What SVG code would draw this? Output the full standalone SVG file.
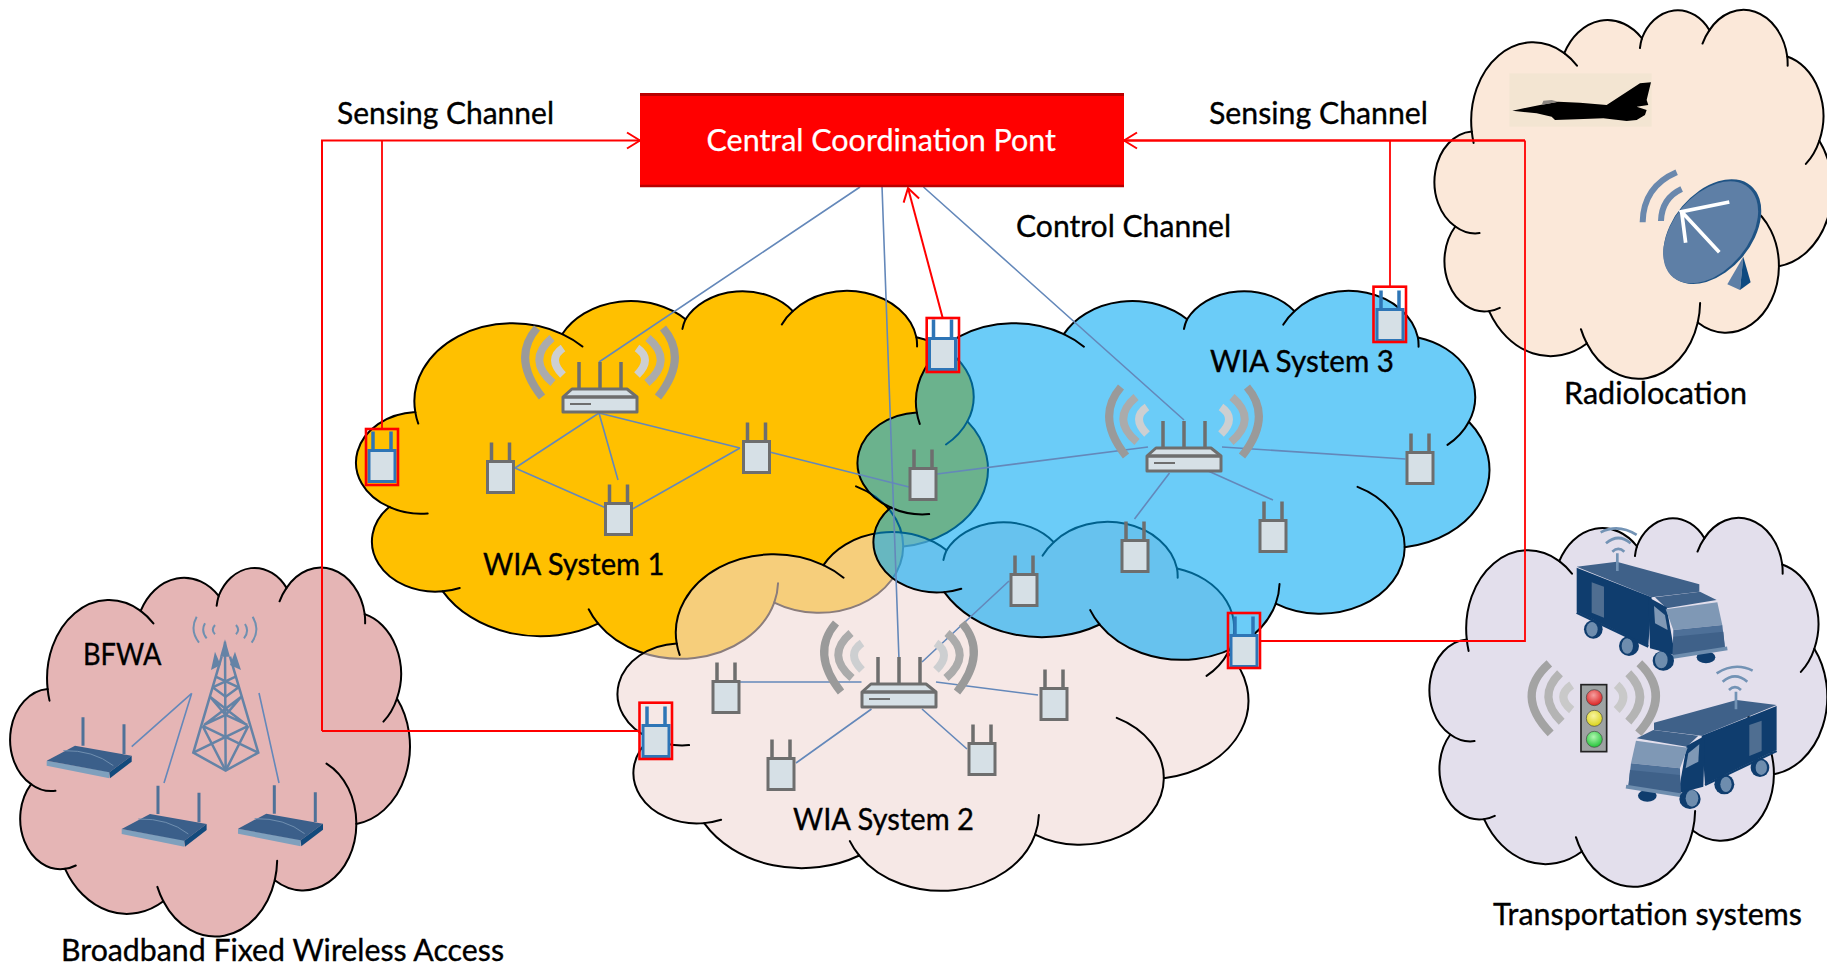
<svg xmlns="http://www.w3.org/2000/svg" width="1827" height="968" viewBox="0 0 1827 968">
<style>
.ol,.tp{stroke:#000;stroke-width:2;vector-effect:non-scaling-stroke;stroke-linecap:round}
.tp{fill:none}
text{font-family:Lato,"Liberation Sans",sans-serif;font-size:31px;fill:#000;stroke:#000;stroke-width:.35}
.ln{fill:none;stroke:#6488BA;stroke-width:1.6}
.rd{fill:none;stroke:#F00;stroke-width:1.8}
.gr{stroke:#6E6E6E;fill:#D6E0E6}
.ant{stroke:#6E6E6E;fill:none;stroke-width:3.5}
.sb{stroke:#2E75B6;fill:#D6E0E6;stroke-width:3}
.sa{stroke:#2E75B6;fill:none;stroke-width:3.5}
.rb{fill:none;stroke:#F00;stroke-width:2.6}
.w1,.w2,.w3{fill:none}
.w1{stroke:#9A9A9A;stroke-width:8}
.w2{stroke:#ABABAB;stroke-width:8}
.w3{stroke:#CDCFD1;stroke-width:8}
.tw{fill:none;stroke:#6483A6;stroke-width:7.500}
.twv{fill:none;stroke:#7090B0;stroke-width:6}
</style>
<defs>
<g id="cloud">
<path class="ol" d="M90.300 332.600A156 213 0 0 1 324 120A123 168 0 0 1 520 79.500A101 138 0 0 1 690.600 57.500A112 153 0 0 1 887 129A123 168 0 0 1 968 358A157 213 0 0 1 866 699A134 182 0 0 1 661 852A156 213 0 0 1 381 909A179 244 0 0 1 134 821A101 137 0 0 1 48.800 591A100.600 137.600 0 0 1 90.300 332.600Z"/>
<path class="tp" d="M90.300 332.600A156 213 0 0 0 95 364M324 120A156 213 0 0 1 356 154M520 79.500A101 138 0 0 0 515 106M690.600 57.500A112 153 0 0 0 673 94M887 129A112 153 0 0 1 888 154M968 358A123 168 0 0 1 934 421M866 699A134 182 0 0 0 791 535M661 852A156 213 0 0 0 667 799M381 909A156 213 0 0 1 366 870M134 821A101 137 0 0 0 161 812M48.800 591A100.600 137.600 0 0 0 110 609"/>
</g>
<g id="router">
<path class="w1" d="M-63 -72Q-89 -42 -58 -3M63 -72Q89 -42 58 -3"/>
<path class="w2" d="M-48 -62Q-74 -40 -47 -17M48 -62Q74 -40 47 -17"/>
<path class="w3" d="M-37 -52Q-53 -41 -37 -25M37 -52Q53 -41 37 -25"/>
<path class="ant" d="M-21 -38V-11M0 -38V-11M21 -38V-11"/>
<path class="gr" stroke-width="3" stroke-linejoin="round" d="M-37 -3L-28 -11H27L37 -3V12H-37Z"/>
<path class="ant" stroke-width="2" d="M-37 -3H37"/>
<path d="M-30 4H-9" stroke="#6E6E6E" stroke-width="2" fill="none"/>
</g>
<g id="ap">
<path class="ant" d="M-9 -34.500V-15.500M9 -34.500V-15.500"/>
<rect class="gr" stroke-width="3" x="-13" y="-15.500" width="26" height="31"/>
</g>
<g id="sap">
<path class="sa" d="M-9 -34.500V-15.500M9 -34.500V-15.500"/>
<rect class="sb" x="-13" y="-15.500" width="26" height="31"/>
</g>
<g id="brouter">
<path stroke="#4F7198" stroke-width="9" fill="none" d="M159 352V437M282 373V462"/>
<path fill="#7FA0BD" d="M50 482L238 515V535L50 497Z"/>
<path fill="#3B5F8A" d="M50 482L135 437L305 467L238 517Z"/>
<path fill="#134A7C" d="M238 517L305 467V485L240 535Z"/>
<path fill="none" stroke="#6F8FB0" stroke-width="3" d="M100 452Q190 450 250 497"/>
</g>
<g id="truck">
<ellipse cx="618" cy="412" rx="28" ry="18" fill="#0F3D6E"/>
<ellipse cx="280" cy="328" rx="28" ry="28" fill="#0F3D6E"/><ellipse cx="276" cy="328" rx="17" ry="22" fill="#6E8DAE"/>
<ellipse cx="387" cy="378" rx="30" ry="30" fill="#0F3D6E"/><ellipse cx="382" cy="378" rx="17" ry="23" fill="#6E8DAE"/>
<path fill="#3F6189" d="M230 140L350 125L598 193V215L455 232Z"/>
<path fill="#0F3D6E" d="M230 143L455 232L445 378L230 275Z"/>
<path fill="#4F6E91" d="M275 187L312 200V293L275 278Z"/>
<path fill="#3F6189" d="M465 232L600 215L650 240L500 265Z"/>
<path fill="#0F3D6E" d="M445 232L500 262L525 405L450 385Z"/>
<path fill="#7F98B5" d="M497 268L652 247L667 315L520 330Z"/>
<path fill="#7F98B5" d="M462 258L495 285L503 330L465 310Z"/>
<path fill="#4E7098" d="M520 330L667 315L675 385L518 410Z"/>
<path fill="#3F6189" d="M520 350L670 335L675 385L518 410Z"/>
<path fill="none" stroke="#0F3D6E" stroke-width="7" d="M230 278L445 380"/>
<path fill="none" stroke="#6E8DAE" stroke-width="11" d="M510 412L682 385"/>
<ellipse cx="490" cy="422" rx="32" ry="30" fill="#0F3D6E"/><ellipse cx="484" cy="420" rx="19" ry="25" fill="#6E8DAE"/>
<path stroke="#7393B5" stroke-width="8" fill="none" d="M352 100V153M302 37Q355 10 410 45M318 70Q355 38 392 70M337 95Q355 78 373 95"/>
</g>
<radialGradient id="gr" cx=".45" cy=".35" r=".7"><stop offset="0" stop-color="#F6A0A0"/><stop offset="1" stop-color="#D81818"/></radialGradient>
<radialGradient id="gy" cx=".45" cy=".35" r=".7"><stop offset="0" stop-color="#F8F4A0"/><stop offset="1" stop-color="#D8D010"/></radialGradient>
<radialGradient id="gg" cx=".45" cy=".35" r=".7"><stop offset="0" stop-color="#B0F6B0"/><stop offset="1" stop-color="#18C030"/></radialGradient>
<marker id="ah" viewBox="0 0 16 20" refX="15" refY="10" markerWidth="16" markerHeight="20" markerUnits="userSpaceOnUse" orient="auto"><path d="M2 2L15 10L2 18" fill="none" stroke="#F00" stroke-width="2"/></marker>
</defs>
<rect width="1827" height="968" fill="#fff"/>

<g id="cloud-bfwa"><use href="#cloud" transform="translate(11.700,566.700) scale(.398,.368)" fill="#E5B5B5"/></g>
<g id="cloud-radiolocation"><use href="#cloud" transform="translate(1436,9) scale(.396,.368)" fill="#FBE8D9"/></g>
<g id="cloud-transport"><use href="#cloud" transform="translate(1431,517) scale(.396,.368)" fill="#E3DFEC"/></g>
<g id="cloud-wia1"><use href="#cloud" transform="translate(358.500,290) scale(.629,.367)" fill="#FFC000"/></g>
<g id="cloud-wia2"><use href="#cloud" transform="translate(620,521) scale(.628,.368)" fill="#F0D7D4" fill-opacity=".58"/></g>
<g id="cloud-wia3"><use href="#cloud" transform="translate(860,290) scale(.629,.368)" fill="#00A7F3" fill-opacity=".58"/></g>

<g id="connectors">
<g class="ln">
<path d="M860 187L599 362M882 186L899 660M923.500 187L1184 420"/>
<path d="M599 413L515 468M599 413L618 480M599 413L740 448M515 468L606 508M740 448L632.500 509M769.500 452L909 487"/>
<path d="M937 474L1148 447M1222 447L1405.500 459M1169.500 473L1134.500 519M1201.500 468L1273 500"/>
<path d="M922 662L1009 581M936 682L1038 695M922 709L967 749M740 682H861.500M871.500 709L796 763"/>
<path d="M131.700 746.700L191.700 693.300M164 783L191.700 693.300M259 693L279 783"/>
</g>
<g class="rd">
<path d="M322 731V140.500H640" stroke-width="2" marker-end="url(#ah)"/>
<path d="M382 140.500V429"/>
<path d="M322 731H640"/>
<path d="M1525 140.500H1124" stroke-width="2.400" marker-end="url(#ah)"/>
<path d="M1390 140.500V287"/>
<path d="M1525 140.500V641H1260"/>
<path d="M942.700 318L908 188" stroke-width="2" marker-end="url(#ah)"/>
</g>
</g>

<g id="central-coordination-point">
<rect x="640" y="93" width="484" height="94" fill="#F00"/>
<path d="M640 94.500H1124" stroke="#B80000" stroke-width="3"/>
<path d="M640 186H1124" stroke="#B80000" stroke-width="2.500"/>
<text x="706.500" y="151" textLength="349.500" lengthAdjust="spacingAndGlyphs" style="fill:#fff;stroke:#fff;stroke-width:.25">Central Coordination Pont</text>
</g>

<g id="wia1-router"><use href="#router" transform="translate(600,400)"/></g>
<g id="wia2-router"><use href="#router" transform="translate(899,695)"/></g>
<g id="wia3-router"><use href="#router" transform="translate(1184,459)"/></g>
<g id="wia1-ap1"><use href="#ap" transform="translate(500.500,477)"/></g>
<g id="wia1-ap2"><use href="#ap" transform="translate(618.500,519)"/></g>
<g id="wia1-ap3"><use href="#ap" transform="translate(756.500,457)"/></g>
<g id="wia3-ap1"><use href="#ap" transform="translate(923,484)"/></g>
<g id="wia3-ap2"><use href="#ap" transform="translate(1420,468)"/></g>
<g id="wia3-ap3"><use href="#ap" transform="translate(1273,536)"/></g>
<g id="wia3-ap4"><use href="#ap" transform="translate(1135,556)"/></g>
<g id="wia3-ap5"><use href="#ap" transform="translate(1024,590)"/></g>
<g id="wia2-ap1"><use href="#ap" transform="translate(726,697)"/></g>
<g id="wia2-ap2"><use href="#ap" transform="translate(781,774)"/></g>
<g id="wia2-ap3"><use href="#ap" transform="translate(1054,704)"/></g>
<g id="wia2-ap4"><use href="#ap" transform="translate(982,759)"/></g>

<g id="sensor-1"><use href="#sap" transform="translate(382,466)"/><rect class="rb" x="366" y="429" width="32" height="56"/></g>
<g id="sensor-2"><use href="#sap" transform="translate(942.500,354)"/><rect class="rb" x="926.700" y="318" width="32.300" height="54"/></g>
<g id="sensor-3"><use href="#sap" transform="translate(1390,325)"/><rect class="rb" x="1373.500" y="286.700" width="32.500" height="55.300"/></g>
<g id="sensor-4"><use href="#sap" transform="translate(1244,651)"/><rect class="rb" x="1228" y="613" width="32" height="55"/></g>
<g id="sensor-5"><use href="#sap" transform="translate(656,741)"/><rect class="rb" x="639.500" y="702.700" width="32.500" height="56.300"/></g>

<g id="bfwa-tower" transform="translate(30,600) scale(.3333)">
<path class="tw" d="M575 170L490 458L587 512L685 458L600 170M585 125L587 512"/>
<path class="tw" d="M548 262L587 290L626 262M557 230L626 262M617 230L548 262M540 290L587 345L634 290M540 290L650 375M634 290L522 375M522 375L587 345L652 375M490 458L655 378M685 458L518 378M587 512L518 378M587 512L655 378"/>
<path fill="#6483A6" d="M585 118L570 170H600ZM555 155L543 210L572 195ZM615 155L633 210L600 195Z"/>
<path class="twv" d="M500 50Q478 90 507 128M525 70Q512 93 530 115M555 75Q542 90 555 103M618 75Q631 90 618 103M645 72Q659 93 642 115M668 50Q692 90 665 128"/>
</g>
<g id="bfwa-routers" transform="translate(30,600) scale(.3333)">
<use href="#brouter"/>
<use href="#brouter" transform="translate(225,205)"/>
<use href="#brouter" transform="translate(574,204)"/>
</g>

<g id="jet" transform="translate(1480,50) scale(.3333)">
<rect x="88" y="70" width="427" height="160" fill="#F3E5D2"/>
<path d="M97 182L180 165L235 155L300 158L380 165L480 100L513 97L500 150L505 165L470 170L500 180L495 195L470 210L440 213L370 205L290 208L225 210L215 200L170 190Z" fill="#000"/>
<path d="M185 165L190 152L215 150L235 155Z" fill="#8A8580"/>
</g>
<g id="radar-dish" transform="translate(1480,50) scale(.3333)">
<path fill="#5E7FA6" d="M790 620L742 703L780 720Z"/>
<path fill="#0E4A80" d="M790 620L812 697L780 720Z"/>
<ellipse cx="697" cy="545" rx="180" ry="118" transform="rotate(-50 697 545)" fill="#1F5384"/>
<ellipse cx="692" cy="547" rx="176" ry="113" transform="rotate(-50 692 547)" fill="#5E7FA6"/>
<path stroke="#fff" stroke-width="11" fill="none" d="M748 456L605 485L718 607M605 485L617 578"/>
<path stroke="#6A88AD" stroke-width="18" fill="none" d="M590 367Q490 410 488 517M605 417Q545 445 543 513"/>
</g>

<g id="truck-1" transform="translate(1500,520) scale(.3333)"><use href="#truck"/></g>
<g id="truck-2" transform="translate(1500,520) scale(.3333) translate(1060,415) scale(-1,1)"><use href="#truck"/></g>
<g id="traffic-light" transform="translate(1500,520) scale(.3333)">
<path fill="none" stroke="#A3A3A3" stroke-width="25" d="M148 430Q40 525 152 640M418 430Q518 525 415 640"/>
<path fill="none" stroke="#B4B4B4" stroke-width="25" d="M180 460Q108 530 185 605M385 460Q455 530 385 605"/>
<path fill="none" stroke="#C9C9C9" stroke-width="25" d="M215 495Q165 530 215 570M350 495Q390 530 350 570"/>
<rect x="243" y="494" width="77" height="201" fill="#9EA3A3" stroke="#222" stroke-width="5"/>
<circle cx="283" cy="533" r="24" fill="url(#gr)" stroke="#444" stroke-width="2"/>
<circle cx="283" cy="595" r="24" fill="url(#gy)" stroke="#444" stroke-width="2"/>
<circle cx="283" cy="658" r="24" fill="url(#gg)" stroke="#444" stroke-width="2"/>
</g>

<g id="labels">
<text x="337" y="124" textLength="217" lengthAdjust="spacingAndGlyphs">Sensing Channel</text>
<text x="1209" y="124" textLength="219" lengthAdjust="spacingAndGlyphs">Sensing Channel</text>
<text x="1016" y="237" textLength="215" lengthAdjust="spacingAndGlyphs">Control Channel</text>
<text x="1210" y="372" textLength="184" lengthAdjust="spacingAndGlyphs">WIA System 3</text>
<text x="1564" y="404" textLength="183" lengthAdjust="spacingAndGlyphs">Radiolocation</text>
<text x="483" y="575" textLength="181.500" lengthAdjust="spacingAndGlyphs">WIA System 1</text>
<text x="83" y="665" textLength="78.500" lengthAdjust="spacingAndGlyphs">BFWA</text>
<text x="793" y="830" textLength="181" lengthAdjust="spacingAndGlyphs">WIA System 2</text>
<text x="1493" y="925" textLength="309" lengthAdjust="spacingAndGlyphs">Transportation systems</text>
<text x="61" y="961" textLength="443" lengthAdjust="spacingAndGlyphs">Broadband Fixed Wireless Access</text>
</g>
</svg>
